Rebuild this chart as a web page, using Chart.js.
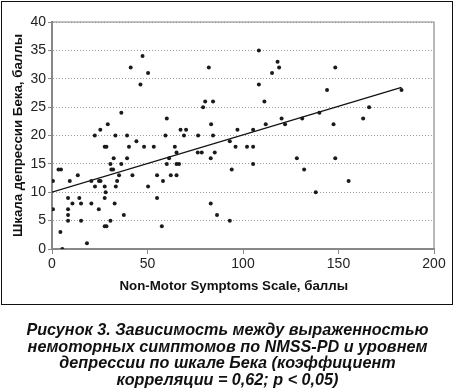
<!DOCTYPE html>
<html>
<head>
<meta charset="utf-8">
<script src="https://cdn.jsdelivr.net/npm/chart.js@4.4.0/dist/chart.umd.min.js"></script>
<style>
body { margin: 0; background: #fff; width: 455px; height: 392px; position: relative; overflow: hidden; }
#chart { position: absolute; left: 0; top: 0; }
#frame { position: absolute; left: 1px; top: 1px; width: 452px; height: 304px; border: 1.5px solid #111; box-sizing: border-box; pointer-events: none; }
#caption { position: absolute; left: 0; top: 321px; width: 455px; text-align: center; color: #111;
  font: italic bold 16.2px "Liberation Sans", Arial, sans-serif; line-height: 16.7px; }
</style>
</head>
<body>
<canvas id="chart" width="455" height="306"></canvas>
<div id="frame"></div>
<div id="caption">Рисунок 3. Зависимость между выраженностью<br>немоторных симптомов по NMSS-PD и уровнем<br>депрессии по шкале Бека (коэффициент<br>корреляции = 0,62; p &lt; 0,05)</div>
<script>
// NMSS score (x) and Beck depression score (y) for each patient
const nmss = [0.5, 0.5, 3.4, 4.7, 4.4, 5.4, 8.4, 8.4, 8.4, 8.4, 9.3, 10.7, 13.5, 14.3, 15.2, 15.2, 18.3, 20.6, 20.6, 22.5,
  22.4, 24.5, 24.6, 25.4, 25.3, 27.6, 28.5, 27.6, 27.6, 28.1, 27.6, 28.5, 29.2, 30.6, 30.6, 31.1, 32, 32.3, 32.8, 33.2,
  33.4, 34.1, 35.1, 36.3, 36.3, 37.6, 39.3, 39.3, 40.3, 41.2, 42.1, 44.2, 46.3, 47.4, 48.2, 50.3, 50.3, 53.3, 55, 55,
  57.5, 58.1, 59.4, 60.1, 60.1, 61.3, 62.2, 64.3, 65.2, 65.2, 65.2, 66.5, 67.3, 69.1, 70.2, 76.3, 76.5, 78.4, 79.1, 80.2,
  82.1, 83.1, 83.1, 83.3, 84.3, 84.3, 85.2, 86.4, 93.1, 93.1, 94.1, 96.1, 97.1, 102.1, 105.3, 105.3, 105.3, 108.3, 108.3, 111.2,
  111.9, 115.2, 118.1, 118.9, 120.2, 122, 128.2, 131, 132, 138.1, 140, 144, 147.4, 148.3, 148.3, 155.3, 162.9, 166, 183];
const beck = [12, 7, 14, 14, 3, 0, 9, 7, 6, 5, 12, 8, 13, 9, 8, 5, 1, 12, 8, 11,
  20, 7, 12, 12, 21, 18, 18, 11, 9, 10, 4, 4, 22, 15, 5, 14, 14, 16, 8, 20,
  11, 12, 13, 15, 24, 6, 16, 20, 18, 32, 13, 19, 29, 34, 18, 31, 11, 18, 13, 9,
  4, 12, 20, 23, 15, 16, 13, 18, 17, 15, 13, 15, 21, 20, 21, 17, 20, 17, 25, 26,
  32, 16, 8, 22, 26, 20, 17, 6, 19, 5, 14, 18, 21, 18, 18, 21, 15, 35, 29, 26,
  22, 31, 33, 32, 23, 22, 16, 23, 14, 10, 24, 28, 22, 32, 16, 12, 23, 25, 28];

// regression line end points
const trendX = [0, 183];
const trendY = [10, 28.5];

const xTicks = [0, 50, 100, 150, 200];
const yTicks = [0, 5, 10, 15, 20, 25, 30, 35, 40];

Chart.defaults.font.family = '"Liberation Sans", Arial, sans-serif';

const points = nmss.map((v, i) => ({ x: v, y: beck[i] }));
const trend = trendX.map((v, i) => ({ x: v, y: trendY[i] }));

// grey frame on top and right of the plot area
const framePlugin = {
  id: 'frame',
  beforeDatasetsDraw(chart) {
    const a = chart.chartArea, ctx = chart.ctx;
    ctx.save();
    ctx.strokeStyle = '#888';
    ctx.lineWidth = 1.2;
    ctx.beginPath();
    ctx.moveTo(a.left, a.top);
    ctx.lineTo(a.right, a.top);
    ctx.lineTo(a.right, a.bottom);
    ctx.stroke();
    ctx.restore();
  }
};

new Chart(document.getElementById('chart'), {
  type: 'scatter',
  data: {
    datasets: [{
      data: points,
      pointRadius: 2,
      pointBackgroundColor: '#1a1a1a',
      pointBorderWidth: 0,
      showLine: false
    }, {
      data: trend,
      showLine: true,
      pointRadius: 0,
      borderColor: '#111',
      borderWidth: 1.3
    }]
  },
  options: {
    responsive: false,
    animation: false,
    devicePixelRatio: 1,
    layout: { padding: { left: 10, top: 22, right: 21, bottom: 0 } },
    plugins: { legend: { display: false }, tooltip: { enabled: false } },
    scales: {
      x: {
        type: 'linear', min: 0, max: 200,
        afterBuildTicks: s => { s.ticks = xTicks.map(v => ({ value: v })); },
        afterFit: s => { s.height = 306 - 249; },
        grid: { drawOnChartArea: false, tickLength: 5, tickColor: '#888', tickWidth: 1 },
        border: { color: '#888', width: 2 },
        ticks: { font: { size: 14 }, color: '#222', padding: 2, maxRotation: 0 },
        // trailing spaces nudge the title a bit left, as in the original
        title: { display: true, text: 'Non-Motor Symptoms Scale, баллы\u00a0\u00a0\u00a0\u00a0\u00a0', color: '#111',
          font: { size: 13.3, weight: 'bold' }, padding: { top: 0, bottom: 12 } }
      },
      y: {
        min: 0, max: 40,
        afterBuildTicks: s => { s.ticks = yTicks.map(v => ({ value: v })); },
        afterFit: s => { s.width = 52 - 10; },
        grid: { color: '#999', lineWidth: 1, tickLength: 4, tickColor: '#888', tickBorderDash: [] },
        border: { color: '#888', width: 2, dash: [1, 2] },
        ticks: { font: { size: 14 }, color: '#222', padding: 2 },
        title: { display: true, text: 'Шкала депрессии Бека, баллы', color: '#111',
          font: { size: 13.3, weight: 'bold' }, padding: { top: 0, bottom: 0 } }
      }
    }
  },
  plugins: [framePlugin]
});
</script>
</body>
</html>
